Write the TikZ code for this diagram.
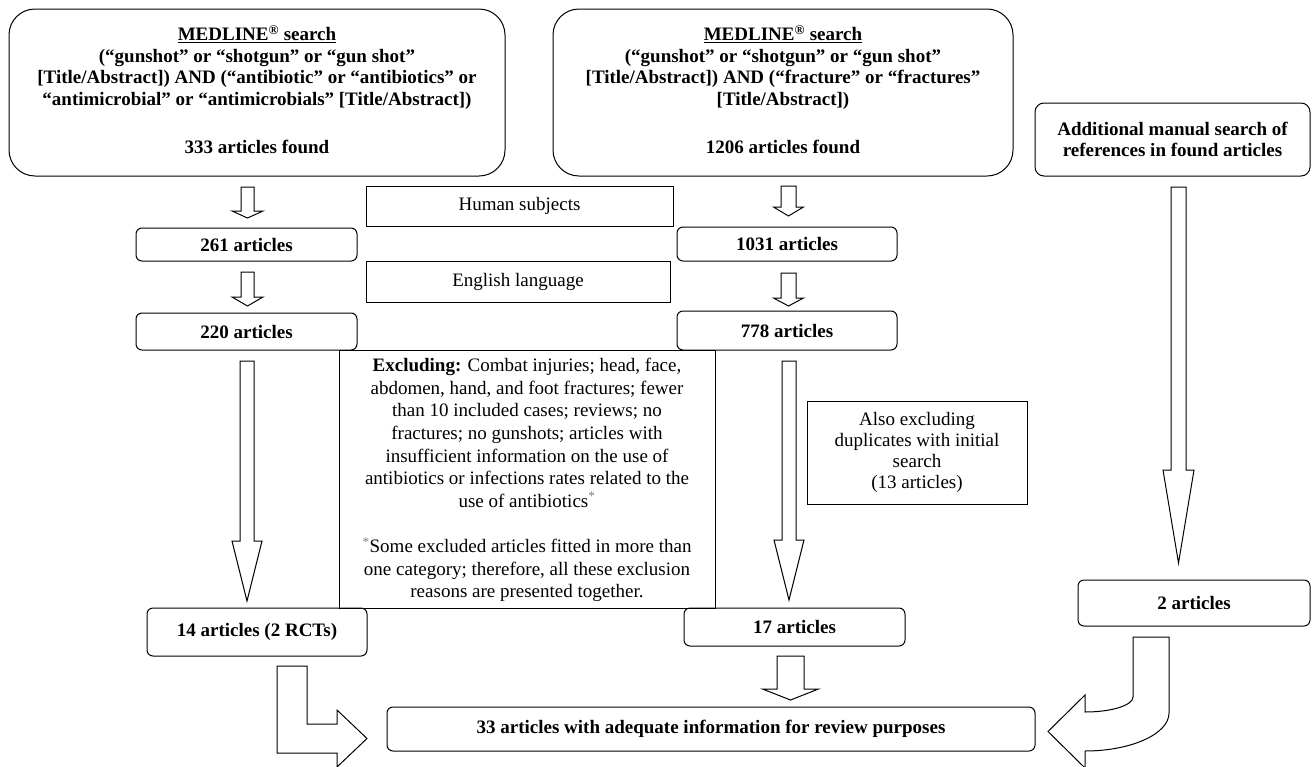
\documentclass[tikz,border=0pt]{standalone}
\usepackage{fontspec}
\setmainfont{Liberation Serif}
\newcommand\dnarr[6]{% x, half shaft, top, head base, half head, tip
  \draw[blk] (#1-#2,#3) -- (#1+#2,#3) -- (#1+#2,#4) -- (#1+#5,#4) -- (#1,#6) -- (#1-#5,#4) -- (#1-#2,#4) -- cycle;}
\begin{document}
\begin{tikzpicture}[x=1pt,y=-1pt,
  rbox/.style={draw, line width=1pt, rounded corners=6pt, inner sep=0pt, font=\bfseries\fontsize{19}{21.5}\selectfont, align=center},
  bigbox/.style={draw, line width=1pt, rounded corners=26pt, inner sep=0pt},
  sbox/.style={draw, line width=1pt, inner sep=0pt, font=\fontsize{19}{22.6}\selectfont, align=center},
  btxt/.style={font=\bfseries\fontsize{19}{21.5}\selectfont, align=center, inner sep=0pt},
  rtxt/.style={font=\fontsize{19}{22.6}\selectfont, align=center, inner sep=0pt},
  blk/.style={draw, line width=1pt, fill=white, line join=miter}]
\useasboundingbox[fill=white] (0,0) rectangle (1312,766);

% top boxes
\node[bigbox, minimum width=496pt, minimum height=167pt] (b1) at (257,92.5) {};
\node[btxt] (q1) at (257,67.5) {\underline{MEDLINE\textsuperscript{®} search}\\
(“gunshot” or “shotgun” or “gun shot”\\{}%
[Title/Abstract]) AND (“antibiotic” or “antibiotics” or\\
“antimicrobial” or “antimicrobials” [Title/Abstract])};
\node[btxt] (c1) at (257,147) {333 articles found};

\node[bigbox, minimum width=460pt, minimum height=167pt] (b2) at (783,92.5) {};
\node[btxt] (q2) at (783,67.5) {\underline{MEDLINE\textsuperscript{®} search}\\
(“gunshot” or “shotgun” or “gun shot”\\{}%
[Title/Abstract]) AND (“fracture” or “fractures”\\{}%
[Title/Abstract])};
\node[btxt] (c2) at (783,147) {1206 articles found};

\node[rbox, rounded corners=9pt, minimum width=275pt, minimum height=73pt] (b3) at (1172.5,139.5)
  {Additional manual search of\\references in found articles};

% filter boxes
\node[sbox, minimum width=307pt, minimum height=40pt] (hs) at (519.5,206) {Human subjects};
\node[sbox, minimum width=304pt, minimum height=41pt] (en) at (518,281.5) {English language};

% exclusion box
\node[sbox, minimum width=376pt, minimum height=258pt] (ex) at (527,479) {};
\node[rtxt] (ext) at (527,480) {\textbf{Excluding:} Combat injuries; head, face,\\
abdomen, hand, and foot fractures; fewer\\
than 10 included cases; reviews; no\\
fractures; no gunshots; articles with\\
insufficient information on the use of\\
antibiotics or infections rates related to the\\
use of antibiotics\textsuperscript{\textcolor{gray}{*}}\\[22.6pt]
\textsuperscript{\textcolor{gray}{*}}Some excluded articles fitted in more than\\
one category; therefore, all these exclusion\\
reasons are presented together.};

% count boxes
\node[rbox, minimum width=221pt, minimum height=33pt] (n261) at (246.5,244.5) {261 articles};
\node[rbox, minimum width=221pt, minimum height=37pt] (n220) at (246.5,331.5) {220 articles};
\node[rbox, minimum width=220pt, minimum height=34pt] (n1031) at (787,244) {1031 articles};
\node[rbox, minimum width=220pt, minimum height=39pt] (n778) at (787,330.5) {778 articles};
\node[rbox, minimum width=220pt, minimum height=48pt] (n14) at (257,632) {14 articles (2 RCTs)};
\node[rbox, minimum width=221pt, minimum height=38pt] (n17) at (794.5,627) {17 articles};
\node[rbox, minimum width=232pt, minimum height=46pt] (n2) at (1194,603) {2 articles};
\node[rbox, minimum width=648pt, minimum height=44pt] (n33) at (711,729) {33 articles with adequate information for review purposes};

\node[sbox, minimum width=220pt, minimum height=103pt, font=\fontsize{19}{21}\selectfont] (also) at (917,452.5)
  {Also excluding\\duplicates with initial\\search\\(13 articles)};

% block arrows
\dnarr{247.5}{6.5}{187}{211}{15.5}{218}
\dnarr{247.5}{6.5}{272}{297}{15.5}{306}
\dnarr{247}{7}{361}{541}{15}{601}
\dnarr{788.5}{7.5}{186}{207}{15}{216}
\dnarr{788.5}{7.5}{273}{298}{15}{306}
\dnarr{789}{7}{361}{540}{15}{600}
\dnarr{790.5}{13.5}{656}{689}{28}{700}
\dnarr{1178.5}{7.5}{187}{470}{15.5}{563}

% L-shaped arrow
\draw[blk] (277,666) -- (307,666) -- (307,724) -- (337,724) -- (337,710) -- (367,738.5)
  -- (337,767) -- (337,753) -- (277,753) -- cycle;

% curved arrow
\draw[blk] (1133,637) -- (1169,637) -- (1169,713)
  .. controls (1169,734) and (1131,751) .. (1085,751)
  -- (1085,768) -- (1048,731.5) -- (1085,695) -- (1085,712)
  .. controls (1111.5,712) and (1133,705.3) .. (1133,697) -- cycle;
\end{tikzpicture}
\end{document}
